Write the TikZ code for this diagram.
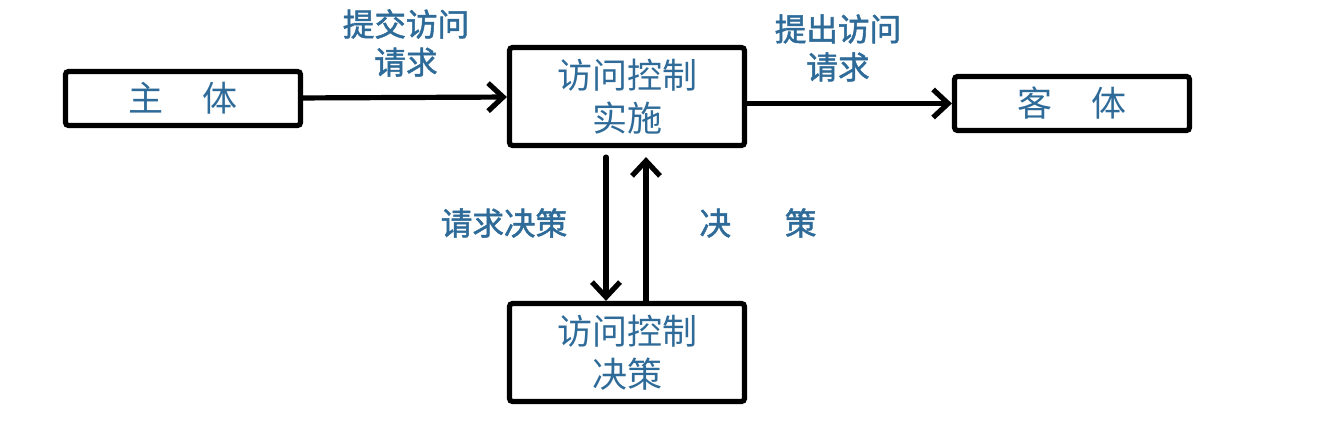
\documentclass[tikz,border=0pt]{standalone}
\usepackage{fontspec}
\setmainfont{Noto Sans CJK SC}
\newfontfamily\labfont{Noto Sans CJK SC}[FakeBold=1.6]
\usetikzlibrary{arrows.meta}
\definecolor{txtblue}{HTML}{2F6B98}
\tikzset{
  box/.style={draw, line width=2.6pt, rounded corners=1.5pt, minimum width=117.5pt, inner sep=0pt, text=txtblue, align=center, font=\fontsize{17.5pt}{21.5pt}\selectfont},
  lab/.style={text=txtblue, align=center, inner sep=0pt, font=\labfont\fontsize{15.8pt}{19pt}\selectfont},
  conn/.style={line width=2.6pt, -{Straight Barb[length=7.5pt,width=14pt,line width=2.6pt]}, line cap=round}
}
\begin{document}
\begin{tikzpicture}[x=0.5pt,y=-0.5pt]
\useasboundingbox (0,0) rectangle (1328,431);
\node[box, minimum height=27pt] (subj) at (183,98.5) {主\hspace{1.1em}体};
\node[box, minimum height=49pt] (impl) at (627,96.5) {访问控制\\实施};
\node[box, minimum height=27pt] (obj) at (1072,103.5) {客\hspace{1.1em}体};
\node[box, minimum height=49pt] (dec) at (627,352.5) {访问控制\\决策};
\node[lab] (l1) at (406,43) {提交访问\\请求};
\node[lab] (l2) at (838,48) {提出访问\\请求};
\node[lab] (l3) at (504,223) {请求决策};
\node[lab] (l4) at (758,223) {决\hspace{1.7em}策};
\draw[conn] (subj) -- (impl);
\draw[conn] (impl.east |- obj) -- (obj.west);
\draw[conn, shorten <=4.5pt] ([xshift=-10.5pt]impl.south) -- ([xshift=-10.5pt]dec.north);
\draw[conn, shorten >=4.5pt] ([xshift=9.5pt]dec.north) -- ([xshift=9.5pt]impl.south);
\end{tikzpicture}
\end{document}
